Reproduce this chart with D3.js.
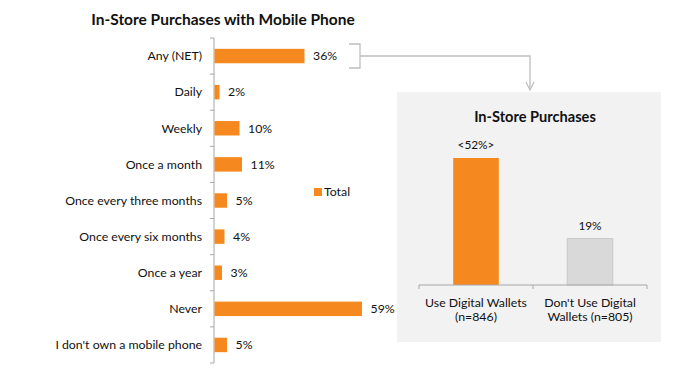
<!DOCTYPE html>
<html>
<head>
<meta charset="utf-8">
<script src="https://cdn.jsdelivr.net/npm/d3@7"></script>
<style>
  body { margin: 0; background: #fff; }
  text { font-family: Lato, "Open Sans", sans-serif; fill: #111; }
</style>
</head>
<body>
<script>
var categories = ["Any (NET)", "Daily", "Weekly", "Once a month", "Once every three months",
  "Once every six months", "Once a year", "Never", "I don't own a mobile phone"];
var totals = [36, 2, 10, 11, 5, 4, 3, 59, 5];
var walletGroups = [["Use Digital Wallets", "(n=846)"], ["Don't Use Digital", "Wallets (n=805)"]];
var walletValues = [52, 19];
var walletLabels = ["<52%>", "19%"];

var width = 683, height = 384;
var orange = "#f5891f";
var axisGray = "#a6a6a6";

var svg = d3.select("body").append("svg")
  .attr("width", width)
  .attr("height", height);

// Left chart
var x = d3.scaleLinear().domain([0, 60]).range([214, 364]);
var y = d3.scaleBand().domain(categories).range([38, 363]);
var bh = y.bandwidth() * 0.4;

svg.append("text")
  .attr("x", 223).attr("y", 25)
  .attr("text-anchor", "middle")
  .style("font-size", "15.5px").style("font-weight", "bold")
  .text("In-Store Purchases with Mobile Phone");

svg.append("line")
  .attr("x1", 214).attr("x2", 214)
  .attr("y1", 38).attr("y2", 363)
  .attr("stroke", axisGray);

var bounds = categories.map(function(c) { return y(c); }).concat([y.range()[1]]);
svg.selectAll(".ltick").data(bounds).enter().append("line")
  .attr("x1", 210).attr("x2", 214)
  .attr("y1", function(d) { return d; })
  .attr("y2", function(d) { return d; })
  .attr("stroke", axisGray);

svg.selectAll(".cat").data(categories).enter().append("text")
  .attr("x", 202)
  .attr("y", function(d) { return y(d) + y.bandwidth() / 2; })
  .attr("dy", "0.35em")
  .attr("text-anchor", "end")
  .style("font-size", "12.3px")
  .text(function(d) { return d; });

svg.selectAll(".bar").data(totals).enter().append("rect")
  .attr("x", x(0) + 0.5)
  .attr("y", function(d, i) { return y(categories[i]) + (y.bandwidth() - bh) / 2; })
  .attr("width", function(d) { return x(d) - x(0); })
  .attr("height", bh)
  .attr("fill", orange);

svg.selectAll(".val").data(totals).enter().append("text")
  .attr("x", function(d) { return x(d) + 9; })
  .attr("y", function(d, i) { return y(categories[i]) + y.bandwidth() / 2; })
  .attr("dy", "0.35em")
  .style("font-size", "12.3px")
  .text(function(d) { return d + "%"; });

// legend
svg.append("rect").attr("x", 314).attr("y", 188).attr("width", 8).attr("height", 8).attr("fill", orange);
svg.append("text").attr("x", 324).attr("y", 192).attr("dy", "0.35em")
  .style("font-size", "12.3px").text("Total");

// bracket and arrow
var connGray = "#bfbfbf";
svg.append("path")
  .attr("d", "M349,44 H360 V68 H349 M360,56 H530 V88")
  .attr("fill", "none").attr("stroke", connGray).attr("stroke-width", 1.3);
svg.append("path")
  .attr("d", "M526,82 L530,90 L534,82")
  .attr("fill", "none").attr("stroke", connGray).attr("stroke-width", 1.3);

// Right panel
svg.append("rect")
  .attr("x", 397).attr("y", 92).attr("width", 264).attr("height", 250)
  .attr("fill", "#f2f2f2");

svg.append("text")
  .attr("x", 535).attr("y", 122)
  .attr("text-anchor", "middle")
  .style("font-size", "14.6px").style("font-weight", "bold")
  .text("In-Store Purchases");

var x2 = d3.scaleBand().domain(walletGroups.map(function(d) { return d[0]; }))
  .range([419, 647]).paddingInner(0.6).paddingOuter(0.3);
var y2 = d3.scaleLinear().domain([0, 52]).range([285, 158]);

svg.selectAll(".wbar").data(walletValues).enter().append("rect")
  .attr("x", function(d, i) { return x2(walletGroups[i][0]); })
  .attr("y", function(d) { return y2(d); })
  .attr("width", x2.bandwidth())
  .attr("height", function(d) { return y2(0) - y2(d); })
  .attr("fill", function(d, i) { return i === 0 ? orange : "#d9d9d9"; })
  .attr("stroke", function(d, i) { return i === 0 ? "none" : "#c8c8c8"; });

svg.selectAll(".wval").data(walletValues).enter().append("text")
  .attr("x", function(d, i) { return x2(walletGroups[i][0]) + x2.bandwidth() / 2; })
  .attr("y", function(d) { return y2(d) - 13; })
  .attr("dy", "0.35em")
  .attr("text-anchor", "middle")
  .style("font-size", "11.8px")
  .text(function(d, i) { return walletLabels[i]; });

svg.append("line")
  .attr("x1", 419).attr("x2", 647).attr("y1", 285).attr("y2", 285)
  .attr("stroke", axisGray);
svg.selectAll(".btick").data([419, 533, 647]).enter().append("line")
  .attr("x1", function(d) { return d; }).attr("x2", function(d) { return d; })
  .attr("y1", 285).attr("y2", 289)
  .attr("stroke", axisGray);

var wl = svg.selectAll(".wcat").data(walletGroups).enter().append("text")
  .attr("text-anchor", "middle")
  .style("font-size", "12.3px");
wl.append("tspan")
  .attr("x", function(d, i) { return [476, 590][i]; })
  .attr("y", 307)
  .text(function(d) { return d[0]; });
wl.append("tspan")
  .attr("x", function(d, i) { return [476, 590][i]; })
  .attr("y", 321)
  .text(function(d) { return d[1]; });
</script>
</body>
</html>
